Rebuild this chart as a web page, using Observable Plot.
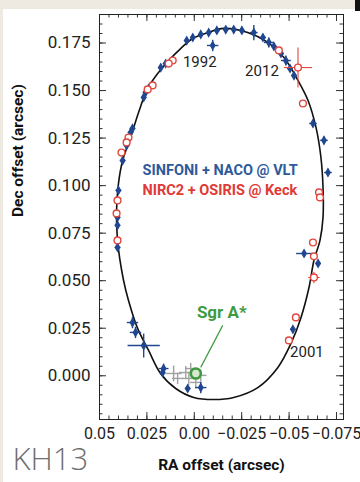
<!DOCTYPE html>
<html><head><meta charset="utf-8">
<script src="https://cdn.jsdelivr.net/npm/d3@7"></script>
<script src="https://cdn.jsdelivr.net/npm/@observablehq/plot@0.6"></script>
<style>
html,body{margin:0;padding:0;background:#fff;width:360px;height:482px;overflow:hidden;position:relative}
#band{position:absolute;left:0;top:0;width:360px;height:9px;background:#eeeae2}
#lband{position:absolute;left:0;top:0;width:3px;height:482px;background:#eeeae2}
#blk{position:absolute;right:0;top:0;width:5px;height:11px;background:#111}
#chart{position:absolute;left:0;top:0}
</style></head><body>
<div id="band"></div><div id="lband"></div><div id="blk"></div>
<div id="chart"></div>
<script>
// Orbit model, RA / Dec offsets in arcsec
const orbitRA  = [-0.0156,-0.0282,-0.0388,-0.0473,-0.0547,-0.0600,-0.0642,-0.0668,-0.0679,-0.0679,-0.0663,-0.0631,-0.0605,-0.0563,-0.0510,-0.0441,-0.0335,-0.0208,-0.0103,0.0003,0.0098,0.0178,0.0241,0.0299,0.0347,0.0373,0.0405,0.0410,0.0400,0.0378,0.0336,0.0294,0.0246,0.0193,0.0135,0.0072,0.0008,-0.0071];
const orbitDec = [0.1827,0.1805,0.1753,0.1674,0.1553,0.1448,0.1306,0.1148,0.0990,0.0833,0.0712,0.0606,0.0464,0.0307,0.0170,0.0044,-0.0062,-0.0114,-0.0125,-0.0114,-0.0067,0.0012,0.0133,0.0249,0.0396,0.0501,0.0712,0.0869,0.1011,0.1132,0.1253,0.1385,0.1511,0.1590,0.1658,0.1721,0.1774,0.1805];

// SINFONI + NACO @ VLT
const vltRA   = [0.0177,0.0151,0.0040,0.0008,-0.0034,-0.0076,-0.0119,-0.0166,-0.0208,-0.0251,-0.0314,-0.0362,-0.0393,-0.0420,-0.0457,-0.0483,-0.0505,-0.0526,-0.0097,-0.0626,-0.0684,-0.0705,-0.0579,-0.0653,-0.0520,0.0257,0.0241,0.0267,0.0326,0.0336,0.0347,0.0357,0.0378,0.0400,0.0405,0.0405,0.0405,0.0326,0.0310,0.0267,0.0162,0.0167,-0.0034,0.0035];
const vltDec  = [0.1621,0.1642,0.1763,0.1779,0.1795,0.1805,0.1816,0.1821,0.1821,0.1816,0.1805,0.1779,0.1753,0.1732,0.1695,0.1658,0.1616,0.1579,0.1737,0.1327,0.1238,0.1069,0.0643,0.0591,0.0244,0.1490,0.1511,0.1464,0.1301,0.1280,0.1248,0.1211,0.1132,0.0975,0.0833,0.0791,0.0675,0.0280,0.0228,0.0159,0.0038,0.0017,-0.0062,-0.0067];
const vltErrRA  = [0.0015,0.0015,0.0015,0.0015,0.0015,0.0015,0.0015,0.0015,0.0015,0.0015,0.002,0.0015,0.0026,0.0015,0.0015,0.0026,0.0015,0.0015,0.003,0.002,0.002,0.002,0.0042,0.0015,0.0015,0.0015,0.0015,0.0015,0.0015,0.0015,0.0015,0.0015,0.0015,0.0015,0.0015,0.0015,0.0015,0.003,0.003,0.0085,0.0026,0.0015,0.003,0.0015];
const vltErrDec = [0.0015,0.0015,0.0015,0.0015,0.0015,0.0015,0.0015,0.0015,0.0015,0.0015,0.004,0.0015,0.0026,0.0015,0.0015,0.0026,0.0015,0.0015,0.003,0.002,0.002,0.002,0.001,0.0015,0.0015,0.0015,0.0015,0.0015,0.0015,0.0015,0.0015,0.0015,0.0015,0.0015,0.0015,0.0015,0.0015,0.003,0.003,0.0063,0.0026,0.0015,0.003,0.0015];

// NIRC2 + OSIRIS @ Keck
const keckRA  = [0.0114,0.0135,0.0220,0.0246,0.0347,0.0357,0.0384,0.0405,0.0410,0.0405,-0.0446,-0.0547,-0.0573,-0.0658,-0.0663,-0.0626,-0.0631,-0.0631,-0.0536,-0.0499];
const keckDec = [0.1658,0.1642,0.1527,0.1506,0.1253,0.1227,0.1174,0.0922,0.0854,0.0712,0.1711,0.1621,0.1432,0.0964,0.0938,0.0701,0.0628,0.0517,0.0307,0.0186];
const keckErrRA  = [0,0,0,0,0,0,0,0,0,0,0,0.0074,0,0,0,0,0,0.003,0,0];
const keckErrDec = [0,0,0,0,0,0,0,0,0,0,0,0.0105,0,0,0,0,0,0.003,0,0];

// Sgr A* and the grey reference crosses around it
const sgrRA = [-0.0008], sgrDec = [0.0012];
const greyRA  = [0.0045,0.0019,-0.0034,-0.0008,0.0029,0.0088,0.0109];
const greyDec = [0.0017,0.0038,0.0002,-0.0035,-0.0014,-0.0014,0.0012];
const greyErr = [0.0035,0.003,0.003,0.003,0.0035,0.003,0.0042];

const yTicks = [0,0.025,0.05,0.075,0.1,0.125,0.15,0.175];
const yTickLabels = ["0.000","0.025","0.050","0.075","0.100","0.125","0.150","0.175"];
const xTicks = [0.05,0.025,0,-0.025,-0.05,-0.075];
const xTickLabels = ["0.05","0.025","0.00","\u22120.025","\u22120.05","\u22120.075"];

const epochLabels = ["1992","2012","2001"];
const epochRA  = [-0.0029,-0.0357,-0.0594];
const epochDec = [0.1648,0.1600,0.0123];

const orbit = orbitRA.map((x,i)=>({x, y: orbitDec[i]}));
const vlt = vltRA.map((x,i)=>({x, y: vltDec[i], ex: vltErrRA[i], ey: vltErrDec[i]}));
const keck = keckRA.map((x,i)=>({x, y: keckDec[i], ex: keckErrRA[i], ey: keckErrDec[i]}));
const keckErr = keck.filter(d=>d.ex>0);
const grey = greyRA.map((x,i)=>({x, y: greyDec[i], e: greyErr[i]}));
const sgr = sgrRA.map((x,i)=>({x, y: sgrDec[i]}));
const yT = yTicks.map((v,i)=>({v, t: yTickLabels[i]}));
const xT = xTicks.map((v,i)=>({v, t: xTickLabels[i]}));
const epochs = epochLabels.map((t,i)=>({t, x: epochRA[i], y: epochDec[i]}));

const W = 360-99-17, H = 482-14-63;
const yMinor = d3.range(-0.020, 0.1851, 0.005).map(v=>+v.toFixed(3));
const xMinor = d3.range(-0.075, 0.0501, 0.005).map(v=>+v.toFixed(3));
const isMajor = v => Math.abs(v/0.025 - Math.round(v/0.025)) < 1e-6;

const BLUE = "#1f468f", RED = "#e2463d", GREEN = "#3f9a3f";
const F = "Roboto, 'Liberation Sans', sans-serif";

const chart = Plot.plot({
  width: 360, height: 482,
  marginLeft: 99, marginRight: 17, marginTop: 14, marginBottom: 63,
  x: {domain: [0.05, -0.0787], axis: null},
  y: {domain: [-0.023, 0.19], axis: null},
  style: {background: "transparent", fontFamily: F},
  marks: [
    // inward ticks on all four sides
    Plot.tickY(yMinor, {y: d=>d, stroke: "#333", strokeWidth: 1, insetRight: W-3.5}),
    Plot.tickY(yMinor.filter(isMajor), {y: d=>d, stroke: "#333", strokeWidth: 1, insetRight: W-7}),
    Plot.tickY(yMinor, {y: d=>d, stroke: "#333", strokeWidth: 1, insetLeft: W-3.5}),
    Plot.tickY(yMinor.filter(isMajor), {y: d=>d, stroke: "#333", strokeWidth: 1, insetLeft: W-7}),
    Plot.tickX(xMinor, {x: d=>d, stroke: "#333", strokeWidth: 1, insetTop: H-3.5}),
    Plot.tickX(xMinor.filter(isMajor), {x: d=>d, stroke: "#333", strokeWidth: 1, insetTop: H-7}),
    Plot.tickX(xMinor, {x: d=>d, stroke: "#333", strokeWidth: 1, insetBottom: H-3.5}),
    Plot.tickX(xMinor.filter(isMajor), {x: d=>d, stroke: "#333", strokeWidth: 1, insetBottom: H-7}),
    Plot.frame({stroke: "#222", strokeWidth: 1}),
    // tick labels
    Plot.text(yT, {y: "v", text: "t", frameAnchor: "left", dx: -9, textAnchor: "end", fontSize: 17, fill: "#222"}),
    Plot.text(xT, {x: "v", text: "t", frameAnchor: "bottom", dy: 19, fontSize: 16, fill: "#222"}),
    // axis titles
    Plot.text(["Dec offset (arcsec)"], {frameAnchor: "left", dx: -81, rotate: -90, fontSize: 15.5, fontWeight: "bold", fill: "#111"}),
    Plot.text(["RA offset (arcsec)"], {frameAnchor: "bottom", dy: 50, fontSize: 15.5, fontWeight: "bold", fill: "#111"}),
    Plot.text(["KH13"], {frameAnchor: "bottom-left", dx: -87, dy: 50, textAnchor: "start", fontSize: 31, fontWeight: 300, fill: "#6f6f6f", fontFamily: "'Open Sans', Lato, sans-serif"}),
    // orbit
    Plot.line(orbit, {x: "x", y: "y", curve: "catmull-rom-closed", stroke: "#111", strokeWidth: 1.6}),
    // grey crosses near Sgr A*
    Plot.link(grey, {x1: d=>d.x-d.e, x2: d=>d.x+d.e, y1: "y", y2: "y", stroke: "#a0a0a0", strokeWidth: 1.4}),
    Plot.link(grey, {x1: "x", x2: "x", y1: d=>d.y-d.e, y2: d=>d.y+d.e, stroke: "#a0a0a0", strokeWidth: 1.4}),
    // VLT
    Plot.link(vlt, {x1: d=>d.x-d.ex, x2: d=>d.x+d.ex, y1: "y", y2: "y", stroke: BLUE, strokeWidth: 1.4}),
    Plot.link(vlt, {x1: "x", x2: "x", y1: d=>d.y-d.ey, y2: d=>d.y+d.ey, stroke: BLUE, strokeWidth: 1.4}),
    Plot.dot(vlt, {x: "x", y: "y", symbol: "diamond", r: 3.1, fill: BLUE}),
    // Keck
    Plot.link(keckErr, {x1: d=>d.x-d.ex, x2: d=>d.x+d.ex, y1: "y", y2: "y", stroke: RED, strokeWidth: 1.1}),
    Plot.link(keckErr, {x1: "x", x2: "x", y1: d=>d.y-d.ey, y2: d=>d.y+d.ey, stroke: RED, strokeWidth: 1.1}),
    Plot.dot(keck, {x: "x", y: "y", r: 3.4, stroke: RED, strokeWidth: 1.4, fill: "white"}),
    // Sgr A*
    Plot.link([{x1: -0.0150, y1: 0.0265, x2: -0.0034, y2: 0.0044}], {x1: "x1", y1: "y1", x2: "x2", y2: "y2", stroke: GREEN, strokeWidth: 1.2}),
    Plot.dot(sgr, {x: "x", y: "y", r: 5, stroke: GREEN, strokeWidth: 2.6, fill: "#d6e9cf"}),
    Plot.text(["Sgr A*"], {x: -0.0145, y: 0.0333, fontSize: 17, fontWeight: "bold", fill: GREEN}),
    // epoch labels
    Plot.text(epochs, {x: "x", y: "y", text: "t", fontSize: 15, fill: "#222"}),
    // legend
    Plot.text(["SINFONI + NACO @ VLT"], {x: 0.0273, y: 0.1080, textAnchor: "start", fontSize: 14.5, fontWeight: "bold", fill: "#2e5a9c"}),
    Plot.text(["NIRC2 + OSIRIS @ Keck"], {x: 0.0273, y: 0.0975, textAnchor: "start", fontSize: 14.5, fontWeight: "bold", fill: "#e03a36"})
  ]
});
document.getElementById("chart").appendChild(chart);
</script>
</body></html>
